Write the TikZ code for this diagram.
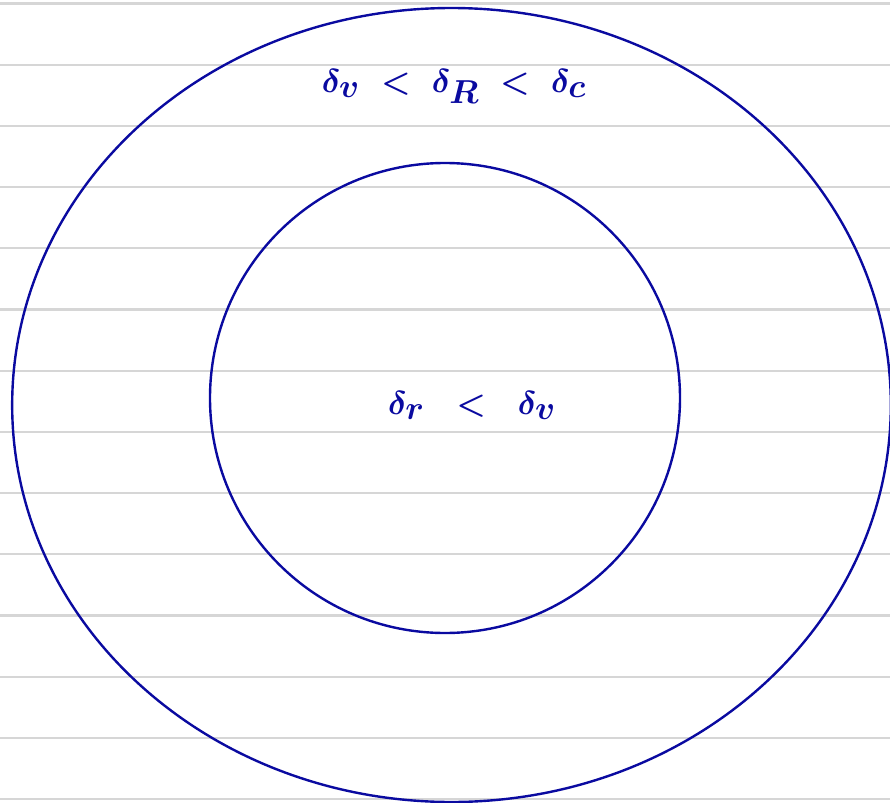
\documentclass[tikz,border=0pt]{standalone}
\usetikzlibrary{shapes.geometric}
\definecolor{ink}{RGB}{10,10,160}
\definecolor{rule}{RGB}{214,214,214}
\begin{document}
\begin{tikzpicture}[x=0.75pt,y=-0.75pt,
  ruleline/.style={draw=rule,line width=1.6pt},
  ring/.style={draw=ink,line width=1.8pt,ellipse,inner sep=0pt},
  label/.style={text=ink,font=\fontsize{38}{44}\selectfont\boldmath}]
\useasboundingbox (0,0) rectangle (890,803);
\clip (0,0) rectangle (890,803);
\fill[white] (0,0) rectangle (890,803);
\foreach \k in {0,...,13}{
  \draw[ruleline] (0,{3.5+61.2*\k}) -- (890,{3.5+61.2*\k});
}
\node[ring,minimum width=659pt,minimum height=595.5pt] (outer) at (451.5,405) {};
\node[ring,minimum width=352.5pt,minimum height=352.5pt] (inner) at (445,398) {};
\node[label] (top) at (454,86) {$\delta_v \;<\; \delta_R \;<\; \delta_c$};
\node[label] (mid) at (472,405) {$\delta_r \;\;<\;\; \delta_v$};
\end{tikzpicture}
\end{document}
